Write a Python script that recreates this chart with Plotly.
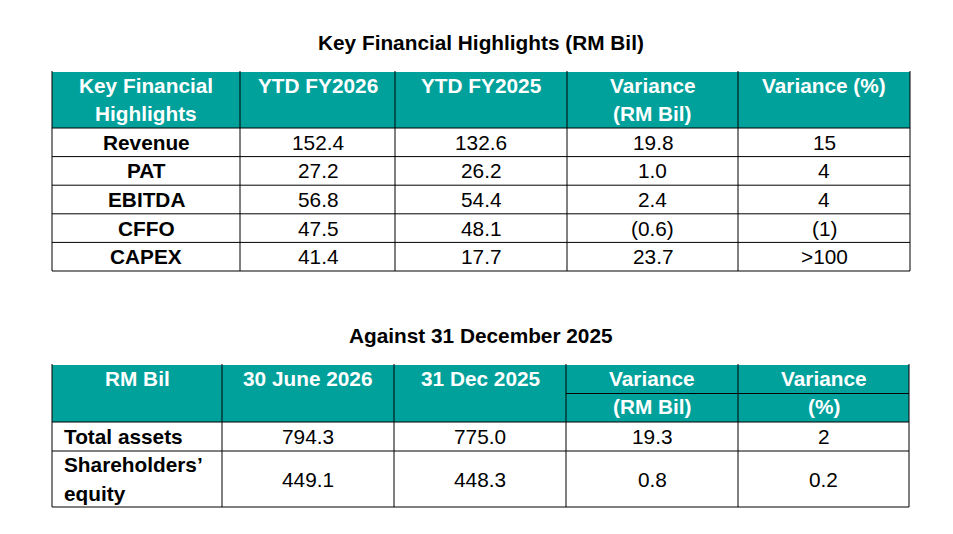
import plotly.graph_objects as go

"""
Two highlight tables drawn on a hidden pixel-sized axis: shapes for the grid,
annotations for the text.
"""

# ---- data ----
title1 = "Key Financial Highlights (RM Bil)"
header1 = [["Key Financial", "Highlights"], ["YTD FY2026"], ["YTD FY2025"],
           ["Variance", "(RM Bil)"], ["Variance (%)"]]
metrics1 = ["Revenue", "PAT", "EBITDA", "CFFO", "CAPEX"]
ytd_fy2026 = ["152.4", "27.2", "56.8", "47.5", "41.4"]
ytd_fy2025 = ["132.6", "26.2", "54.4", "48.1", "17.7"]
variance_rm = ["19.8", "1.0", "2.4", "(0.6)", "23.7"]
variance_pct = ["15", "4", "4", "(1)", ">100"]

title2 = "Against 31 December 2025"
header2 = [["RM Bil"], ["30 June 2026"], ["31 Dec 2025"],
           ["Variance", "(RM Bil)"], ["Variance", "(%)"]]
items2 = [["Total assets"], ["Shareholders\u2019", "equity"]]
jun_2026 = ["794.3", "449.1"]
dec_2025 = ["775.0", "448.3"]
variance2_rm = ["19.3", "0.8"]
variance2_pct = ["2", "0.2"]

# ---- layout constants ----
W, H = 953, 534
OFF = 8            # page body margin, so axis units match screen pixels
TEAL = "#00A19B"
FONT = "Liberation Sans, Arial, sans-serif"
FS = 20.8
LINE_H = 28.5

fig = go.Figure()
shapes = []
annotations = []


def line(x0, y0, x1, y1):
    shapes.append(dict(type="line", xref="x", yref="y", x0=x0, y0=y0, x1=x1, y1=y1,
                       line=dict(color="black", width=1)))


def text(x, y, s, bold=False, color="black", align="center"):
    annotations.append(dict(x=x, y=y, xref="x", yref="y", showarrow=False,
                            text=f"<b>{s}</b>" if bold else s,
                            xanchor=align, yanchor="middle",
                            font=dict(family=FONT, size=FS, color=color)))


def draw_table(left, top, widths, header_h, row_h, header, rows, first_align,
               split_cols=()):
    xs = [left]
    for w in widths:
        xs.append(xs[-1] + w)
    ys = [top, top + header_h]
    for h in row_h:
        ys.append(ys[-1] + h)

    shapes.append(dict(type="rect", xref="x", yref="y", x0=xs[0], x1=xs[-1],
                       y0=ys[0], y1=ys[1], fillcolor=TEAL, line=dict(width=0),
                       layer="below"))
    # header text, top aligned
    for c, lines in enumerate(header):
        cx = (xs[c] + xs[c + 1]) / 2
        for k, s in enumerate(lines):
            text(cx, top + 13 + k * LINE_H, s, bold=True, color="white")
    # split line inside header
    for c in split_cols:
        line(xs[c], top + header_h / 2, xs[c + 1], top + header_h / 2)

    # body
    for r, row in enumerate(rows):
        cy = (ys[r + 1] + ys[r + 2]) / 2
        for c, val in enumerate(row):
            lines = val if isinstance(val, list) else [val]
            n = len(lines)
            for k, s in enumerate(lines):
                yy = cy + (k - (n - 1) / 2) * LINE_H
                if c == 0:
                    if first_align == "left":
                        text(xs[0] + 10, yy, s, bold=True, align="left")
                    else:
                        text((xs[0] + xs[1]) / 2, yy, s, bold=True)
                else:
                    text((xs[c] + xs[c + 1]) / 2, yy, s)

    # grid
    for x in xs:
        line(x, ys[0] - 1, x, ys[-1])
    for y in ys[1:]:
        line(xs[0], y, xs[-1], y)


rows1 = [list(r) for r in zip(metrics1, ytd_fy2026, ytd_fy2025, variance_rm, variance_pct)]
rows2 = [list(r) for r in zip(items2, jun_2026, dec_2025, variance2_rm, variance2_pct)]

text(481, 42, title1, bold=True)
draw_table(52, 72, [188, 155, 172, 171, 172], 56, [28.6] * 5, header1, rows1, "center")

text(481, 335, title2, bold=True)
draw_table(52, 365, [170, 172, 172, 172, 171], 57, [29, 56], header2, rows2, "left",
           split_cols=(3, 4))

fig.update_layout(
    width=W, height=H,
    margin=dict(l=0, r=0, t=0, b=0),
    paper_bgcolor="white", plot_bgcolor="white",
    xaxis=dict(range=[OFF, W + OFF], visible=False, fixedrange=True),
    yaxis=dict(range=[H + OFF, OFF], visible=False, fixedrange=True),
    shapes=shapes, annotations=annotations,
    showlegend=False,
)
fig.write_html("out.html")
